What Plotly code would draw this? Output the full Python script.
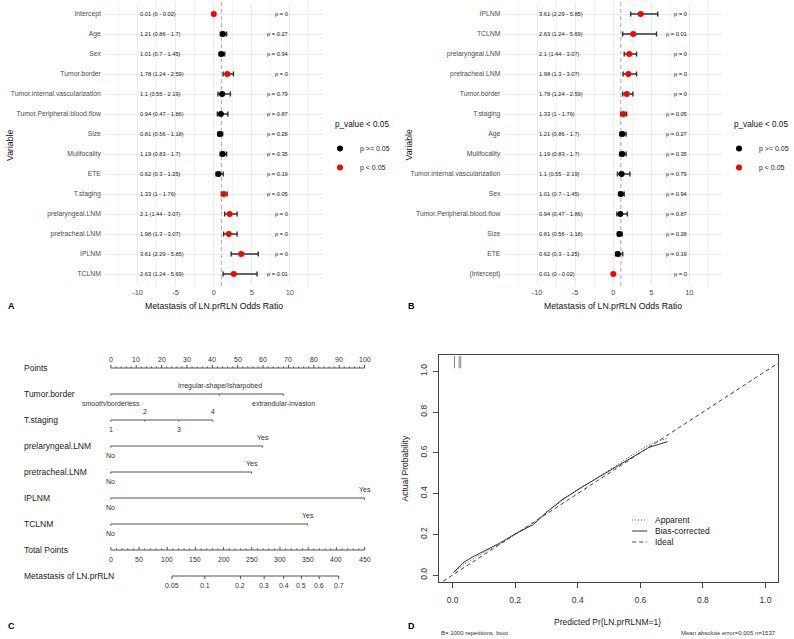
import math
import plotly.graph_objects as go

W, H = 794, 639
def px(x): return x / W
def py(y): return 1 - y / H

# ---------------- Data: logistic regression (panels A, B) ----------------
vars_A = ["Intercept", "Age", "Sex", "Tumor.border", "Tumor.internal.vascularization",
          "Tumor.Peripheral.blood.flow", "Size", "Mulifocality", "ETE", "T.staging",
          "prelaryngeal.LNM", "pretracheal.LNM", "IPLNM", "TCLNM"]
or_A = [0.01, 1.21, 1.01, 1.78, 1.1, 0.94, 0.81, 1.19, 0.62, 1.33, 2.1, 1.98, 3.61, 2.63]
lo_A = [0, 0.86, 0.7, 1.24, 0.55, 0.47, 0.56, 0.83, 0.3, 1, 1.44, 1.3, 2.29, 1.24]
hi_A = [0.02, 1.7, 1.45, 2.59, 2.19, 1.86, 1.18, 1.7, 1.25, 1.76, 3.07, 3.07, 5.85, 5.69]
p_A = [0.0, 0.27, 0.94, 0.0, 0.79, 0.87, 0.28, 0.35, 0.19, 0.049, 0.0, 0.0, 0.0, 0.01]

# panel B: same model, sorted by odds ratio
order_B = sorted(range(len(vars_A)), key=lambda i: -or_A[i])
vars_B = ["(Intercept)" if vars_A[i] == "Intercept" else vars_A[i] for i in order_B]
or_B = [or_A[i] for i in order_B]
lo_B = [lo_A[i] for i in order_B]
hi_B = [hi_A[i] for i in order_B]
p_B = [p_A[i] for i in order_B]

x_ticks_forest = [-10, -5, 0, 5, 10]

# ---------------- Data: nomogram (panel C) ----------------
points_ticks = list(range(0, 101, 10))
predictors = [
    ("Tumor.border", ["smooth/borderless", "irregular-shape/Isharpobed", "extrandular-invasion"], [0, 42.9, 68.1]),
    ("T.staging", ["1", "2", "3", "4"], [0, 13.4, 26.8, 40.2]),
    ("prelaryngeal.LNM", ["No", "Yes"], [0, 59.8]),
    ("pretracheal.LNM", ["No", "Yes"], [0, 55.5]),
    ("IPLNM", ["No", "Yes"], [0, 100]),
    ("TCLNM", ["No", "Yes"], [0, 77.6]),
]
label_sides = [["below", "above", "below"], ["below", "above", "below", "above"],
               ["below", "above"], ["below", "above"], ["below", "above"], ["below", "above"]]
total_ticks = list(range(0, 451, 50))
total_max = 450
prob_ticks = [0.05, 0.1, 0.2, 0.3, 0.4, 0.5, 0.6, 0.7]
tp_at_half = 338.0      # total points where probability = 0.5
tp_per_logit = 78.0     # total points per unit of linear predictor

# ---------------- Data: calibration (panel D) ----------------
app_x = [0.01, 0.04, 0.07, 0.11, 0.15, 0.20, 0.25, 0.30, 0.35, 0.40, 0.45, 0.50, 0.55, 0.60, 0.65, 0.69]
app_y = [0.02, 0.056, 0.083, 0.12, 0.152, 0.20, 0.245, 0.31, 0.365, 0.42, 0.465, 0.515, 0.565, 0.615, 0.655, 0.672]
bc_x = [0.003, 0.033, 0.065, 0.107, 0.15, 0.203, 0.256, 0.309, 0.35, 0.416, 0.469, 0.522, 0.575, 0.628, 0.687]
bc_y = [0.012, 0.06, 0.09, 0.123, 0.156, 0.205, 0.246, 0.319, 0.37, 0.434, 0.483, 0.532, 0.581, 0.627, 0.655]
ideal = [-0.03, 1.05]
rug_x = [0.006, 0.021, 0.026]
d_ticks = [0, 0.2, 0.4, 0.6, 0.8, 1.0]

SANS = "Liberation Sans, Arial, Helvetica, sans-serif"

fig = go.Figure()
ann = []
shapes = []

# ---------------- Forest plots ----------------
def forest(names, orv, lo, hi, pv, xa, ya, legend):
    n = len(names)
    sig = [p < 0.05 for p in pv]
    for flag, color, label in [(False, "black", "p >= 0.05"), (True, "red", "p < 0.05")]:
        idx = [i for i in range(n) if sig[i] == flag]
        fig.add_trace(go.Scatter(
            x=[orv[i] for i in idx], y=idx,
            mode="markers", name=label, legend=legend,
            marker=dict(color=color, size=6),
            error_x=dict(type="data", symmetric=False,
                         array=[hi[i] - orv[i] for i in idx],
                         arrayminus=[orv[i] - lo[i] for i in idx],
                         color="#333333", thickness=1.4, width=2.5),
            xaxis=xa, yaxis=ya))
    for i in range(n):
        ann.append(dict(x=-10, y=i, xref=xa, yref=ya, xanchor="left", yanchor="middle",
                        text=f"{orv[i]:g} ({lo[i]:g} - {hi[i]:g})", showarrow=False,
                        font=dict(family=SANS, size=5.7, color="#222")))
        ann.append(dict(x=10, y=i, xref=xa, yref=ya, xanchor="right", yanchor="middle",
                        text=f"p = {round(pv[i], 2):g}", showarrow=False,
                        font=dict(family=SANS, size=5.7, color="#222")))
    shapes.append(dict(type="line", xref=xa, yref=f"{ya} domain", x0=1, x1=1, y0=0, y1=1,
                       line=dict(color="#AAAAAA", width=1, dash="4px,3px"), layer="below"))

forest(vars_A, or_A, lo_A, hi_A, p_A, "x", "y", "legend")
forest(vars_B, or_B, lo_B, hi_B, p_B, "x2", "y2", "legend2")

def forest_xaxis(x0, x1, anchor):
    return dict(domain=[px(x0), px(x1)], range=[-14.3, 14.3], tickvals=x_ticks_forest,
                ticktext=[str(v) for v in x_ticks_forest], showgrid=True, gridcolor="#EBEBEB",
                gridwidth=1, minor=dict(dtick=2.5, tick0=0, showgrid=True, gridcolor="#F4F4F4", gridwidth=0.7),
                zeroline=False, showline=False, ticks="",
                tickfont=dict(family=SANS, size=7.5, color="#4D4D4D"), anchor=anchor)

def forest_yaxis(names, anchor):
    n = len(names)
    return dict(domain=[py(286), py(2)], range=[n - 0.4, -0.6], tickvals=list(range(n)),
                ticktext=names, showgrid=True, gridcolor="#EBEBEB", gridwidth=1, zeroline=False,
                showline=False, ticks="", tickfont=dict(family=SANS, size=6.8, color="#4D4D4D"),
                anchor=anchor, ticklabelstandoff=3)

layout_axes = dict(
    xaxis=forest_xaxis(105, 323, "y"), yaxis=forest_yaxis(vars_A, "x"),
    xaxis2=forest_xaxis(505, 723, "y2"), yaxis2=forest_yaxis(vars_B, "x2"),
)

for cx, letter in [(0, "A"), (400, "B")]:
    ann.append(dict(x=px(cx + 214), y=py(306), xref="paper", yref="paper", text="Metastasis of LN.prRLN Odds Ratio",
                    showarrow=False, font=dict(family=SANS, size=8.7, color="#111"), xanchor="center", yanchor="middle"))
    ann.append(dict(x=px(cx + 10), y=py(145), xref="paper", yref="paper", text="Variable", textangle=-90,
                    showarrow=False, font=dict(family=SANS, size=8.7, color="#111"), xanchor="center", yanchor="middle"))
    ann.append(dict(x=px(cx + 12), y=py(306), xref="paper", yref="paper", text=f"<b>{letter}</b>",
                    showarrow=False, font=dict(family=SANS, size=9, color="#000"), xanchor="center", yanchor="middle"))
    ann.append(dict(x=px(cx + 391), y=py(125), xref="paper", yref="paper", text="p_value < 0.05",
                    showarrow=False, font=dict(family=SANS, size=8.2, color="#111"), xanchor="right", yanchor="middle"))

# ---------------- Nomogram (panel C) ----------------
XA, YA = "x3", "y3"
row_pts, row_total, row_prob = 0, 7, 8
line_col = "#555555"
lab_font = dict(family=SANS, size=8.5, color="#222")
small_font = dict(family=SANS, size=7, color="#333")
up_off, down_off = -0.31, 0.36
maj_t, min_t = 0.12, 0.06

def seg_trace(xs, ys, width=1):
    fig.add_trace(go.Scatter(x=xs, y=ys, mode="lines", line=dict(color=line_col, width=width),
                             showlegend=False, hoverinfo="skip", xaxis=XA, yaxis=YA, cliponaxis=False))

def left_label(text, row):
    ann.append(dict(x=px(22), y=row, xref="paper", yref=YA, text=text, xanchor="left", yanchor="middle",
                    showarrow=False, font=lab_font))

# Points axis
left_label("Points", row_pts)
tx, ty = [points_ticks[0], points_ticks[-1]], [row_pts, row_pts]
for v in range(points_ticks[0], points_ticks[-1] + 1, 2):
    h = maj_t if v % 10 == 0 else min_t
    tx += [None, v, v]; ty += [None, row_pts, row_pts - h]
seg_trace(tx, ty)
for v in points_ticks:
    ann.append(dict(x=v, y=row_pts + up_off, xref=XA, yref=YA, text=str(v), showarrow=False,
                    font=small_font, xanchor="center", yanchor="middle"))

# Predictors
for r, ((name, levels, pts), sides) in enumerate(zip(predictors, label_sides), start=1):
    left_label(name, r)
    tx, ty = [min(pts), max(pts)], [r, r]
    for p in pts:
        tx += [None, p, p]; ty += [None, r, r + min_t]
    seg_trace(tx, ty)
    for lev, p, s in zip(levels, pts, sides):
        ann.append(dict(x=p, y=r + (up_off if s == "above" else down_off), xref=XA, yref=YA, text=lev,
                        showarrow=False, font=small_font, xanchor="center", yanchor="middle"))

# Total points axis
left_label("Total Points", row_total)
sc = 100.0 / total_max
tx, ty = [0, total_max * sc], [row_total, row_total]
for v in range(0, total_max + 1, 10):
    h = maj_t if v % 50 == 0 else min_t
    tx += [None, v * sc, v * sc]; ty += [None, row_total, row_total - h]
seg_trace(tx, ty)
for v in total_ticks:
    ann.append(dict(x=v * sc, y=row_total + down_off, xref=XA, yref=YA, text=str(v), showarrow=False,
                    font=small_font, xanchor="center", yanchor="middle"))

# Probability axis
left_label("Metastasis of LN.prRLN", row_prob)
def prob_pos(p):
    return (tp_at_half + tp_per_logit * math.log(p / (1 - p))) * sc
pp = [prob_pos(p) for p in prob_ticks]
tx, ty = [pp[0], pp[-1]], [row_prob, row_prob]
for x in pp:
    tx += [None, x, x]; ty += [None, row_prob, row_prob + maj_t]
seg_trace(tx, ty)
for p, x in zip(prob_ticks, pp):
    ann.append(dict(x=x, y=row_prob + down_off, xref=XA, yref=YA, text=f"{p:g}", showarrow=False,
                    font=small_font, xanchor="center", yanchor="middle"))

ppx = (365 - 111) / 100.0
layout_axes["xaxis3"] = dict(domain=[px(111 - ppx), px(365 + ppx)], range=[-1, 101], visible=False,
                             anchor="y3", fixedrange=True)
layout_axes["yaxis3"] = dict(domain=[py(589), py(355)], range=[8.5, -0.5], visible=False,
                             anchor="x3", fixedrange=True)
ann.append(dict(x=px(12), y=py(626), xref="paper", yref="paper", text="<b>C</b>", showarrow=False,
                font=dict(family=SANS, size=9, color="#000"), xanchor="center", yanchor="middle"))

# ---------------- Calibration (panel D) ----------------
d_series = [("Apparent", app_x, app_y, "1px,2px", "#444"),
            ("Bias-corrected", bc_x, bc_y, "solid", "#333"),
            ("Ideal", ideal, ideal, "4px,3px", "#444")]
for k, (name, xs, ys, dash, col) in enumerate(d_series):
    fig.add_trace(go.Scatter(x=xs, y=ys, mode="lines", name=name, showlegend=False,
                             line=dict(color=col, width=1, dash=dash), xaxis="x4", yaxis="y4"))
    # manual legend entry (R style: short sample line + label)
    ly = 520 + 11 * k
    shapes.append(dict(type="line", xref="paper", yref="paper", x0=px(633), x1=px(648), y0=py(ly), y1=py(ly),
                       line=dict(color=col, width=1, dash=dash)))
    ann.append(dict(x=px(654), y=py(ly), xref="paper", yref="paper", text=name, showarrow=False,
                    font=dict(family=SANS, size=8.5, color="#222"), xanchor="left", yanchor="middle"))

rx, ry = [], []
for x in rug_x:
    rx += [x, x, None]; ry += [1.075, 1.015, None]
fig.add_trace(go.Scatter(x=rx, y=ry, mode="lines", line=dict(color="#666", width=0.8),
                         showlegend=False, hoverinfo="skip", xaxis="x4", yaxis="y4"))

d_tickfont = dict(family=SANS, size=8.5, color="#333")
layout_axes["xaxis4"] = dict(domain=[px(440), px(779)], range=[-0.042, 1.04], tickvals=d_ticks,
                             ticktext=[f"{v:.1f}" for v in d_ticks], ticks="outside", ticklen=5,
                             tickcolor="#444", showline=True, mirror=True, linecolor="#444", linewidth=1,
                             showgrid=False, zeroline=False, tickfont=d_tickfont, anchor="y4",
                             ticklabelstandoff=5)
layout_axes["yaxis4"] = dict(domain=[py(582), py(355)], range=[-0.034, 1.08], tickvals=d_ticks,
                             ticktext=[f"{v:.1f}" for v in d_ticks], ticks="outside", ticklen=5,
                             tickcolor="#444", showline=True, mirror=True, linecolor="#444", linewidth=1,
                             showgrid=False, zeroline=False, tickfont=d_tickfont, anchor="x4",
                             tickangle=-90, ticklabelstandoff=3)
ann += [
    dict(x=px(608), y=py(622), xref="paper", yref="paper", text="Predicted Pr{LN.prRLNM=1}", showarrow=False,
         font=dict(family=SANS, size=8.5, color="#222"), xanchor="center", yanchor="middle"),
    dict(x=px(406), y=py(468), xref="paper", yref="paper", text="Actual Probability", textangle=-90,
         showarrow=False, font=dict(family=SANS, size=8.5, color="#222"), xanchor="center", yanchor="middle"),
    dict(x=px(440), y=py(633), xref="paper", yref="paper", text="B= 1000 repetitions, boot", showarrow=False,
         font=dict(family=SANS, size=6, color="#333"), xanchor="left", yanchor="middle"),
    dict(x=px(779), y=py(633), xref="paper", yref="paper", text="Mean absolute error=0.005 n=1537",
         showarrow=False, font=dict(family=SANS, size=6, color="#333"), xanchor="right", yanchor="middle"),
    dict(x=px(412), y=py(626), xref="paper", yref="paper", text="<b>D</b>", showarrow=False,
         font=dict(family=SANS, size=9, color="#000"), xanchor="center", yanchor="middle"),
]

def forest_legend(x):
    return dict(x=px(x), y=py(134), xanchor="left", yanchor="top", bgcolor="rgba(0,0,0,0)",
                font=dict(family=SANS, size=7, color="#222"), itemwidth=30, tracegroupgap=0)

fig.update_layout(
    width=W, height=H, margin=dict(l=0, r=0, t=0, b=0),
    paper_bgcolor="white", plot_bgcolor="white",
    annotations=ann, shapes=shapes,
    legend=forest_legend(320), legend2=forest_legend(720),
    showlegend=True,
    **layout_axes,
)

fig.write_html("out.html")
